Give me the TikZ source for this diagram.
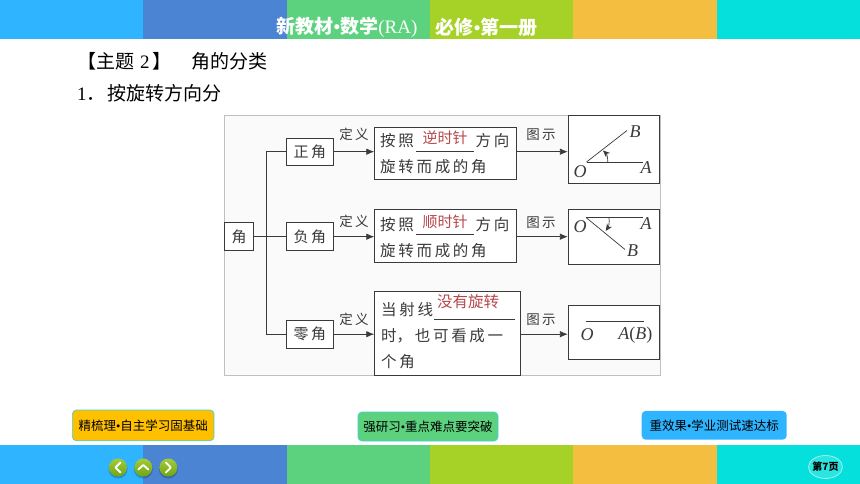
\documentclass[tikz,border=0pt]{standalone}
\usepackage{fontspec}
\setmainfont{Noto Sans CJK SC}
\newfontfamily\serifl{Liberation Serif}
\usetikzlibrary{arrows.meta,calc,shapes.geometric}
\definecolor{cA}{HTML}{2FB4FF}
\definecolor{cB}{HTML}{4A84D2}
\definecolor{cC}{HTML}{5CD17E}
\definecolor{cD}{HTML}{A6D228}
\definecolor{cE}{HTML}{F4BE40}
\definecolor{cF}{HTML}{06E0DC}
\definecolor{ink}{HTML}{3A3A3A}
\definecolor{redt}{HTML}{B5484C}
\definecolor{gold}{HTML}{FFC000}
\definecolor{navt}{HTML}{A5CC3A}
\definecolor{navc}{HTML}{6EA512}
\definecolor{edge}{HTML}{45D0E0}
\newcommand\gp{\kern2.7pt}
\newcommand\dotb{{\serifl •}}
\tikzset{
  x=1pt,y=-1pt,
  box/.style={draw=ink,line width=.8pt,fill=white,inner sep=0pt,align=center,text=ink,font=\fontsize{15}{15}\selectfont},
  def/.style={anchor=west,inner sep=0pt,text=ink,font=\fontsize{15.5}{16}\selectfont},
  lab/.style={inner sep=0pt,text=ink,font=\fontsize{13.5}{14}\selectfont},
  red/.style={inner sep=0pt,text=redt,font=\fontsize{15}{15}\selectfont},
  con/.style={draw=ink,line width=.8pt},
  arr/.style={con,-{Latex[length=8pt,width=6.5pt]}},
  ray/.style={draw=ink,line width=.7pt},
  pt/.style={inner sep=0pt,text=ink,font=\serifl\itshape\fontsize{18}{18}\selectfont},
  ablank/.style={draw=ink,line width=.7pt},
  tab/.style={rounded corners=4pt,inner sep=0pt,text=black,font=\fontsize{12.5}{13}\selectfont},
  navb/.style={circle,inner sep=0pt,minimum size=18pt,top color=navt,bottom color=navc},
  navs/.style={circle,inner sep=0pt,minimum size=19pt,fill=black,opacity=.2},
  navg/.style={draw=white,line width=1.8pt,line cap=round,line join=round},
  body/.style={inner sep=0pt,anchor=west,text=black,font=\fontsize{19}{19}\selectfont},
  ttl/.style={inner sep=0pt,text=white,anchor=center,font=\bfseries\fontsize{19}{19}\selectfont}
}
\begin{document}
\begin{tikzpicture}
\useasboundingbox (0,0) rectangle (860,484);
\fill[white] (0,0) rectangle (860,484);
% bands
\foreach \xa/\xb/\c in {0/143/cA,143/287/cB,287/430/cC,430/573/cD,573/717/cE,717/860/cF}{
  \fill[\c] (\xa,0) rectangle (\xb,39.5);
  \fill[\c] (\xa,444.5) rectangle (\xb,484);
}
\node[ttl] (title1) at (347,27) {新教材\dotb 数学\textnormal{\serifl (RA)}};
\node[ttl] (title2) at (486.7,27) {必修\dotb 第一册};
\node[body] (h1) at (77,61) {【主题\kern6pt{\serifl 2}\kern3pt】};
\node[body] (h2) at (191,61) {角的分类};
\node[body] (h3) at (77,93.5) {{\serifl 1}．\kern1.5pt 按旋转方向分};
% panel
\fill[black!2,draw=black!25,line width=.6pt] (224.5,115.5) rectangle (660,375.5);
% boxes
\node[box,minimum width=29pt,minimum height=28pt] (root) at (239.2,236.7) {角};
\node[box,minimum width=47pt,minimum height=27.5pt] (zheng) at (309.8,151.7) {正\,角};
\node[box,minimum width=47pt,minimum height=28pt] (fu) at (309.8,236.7) {负\,角};
\node[box,minimum width=47pt,minimum height=27.5pt] (ling) at (309.8,334.2) {零\,角};
\node[box,minimum width=142pt,minimum height=52.5pt] (d1) at (445.7,153.5) {};
\node[box,minimum width=142pt,minimum height=53pt] (d2) at (445.7,235.8) {};
\node[box,minimum width=145.3pt,minimum height=83.5pt] (d3) at (447.3,333.4) {};
\node[box,minimum width=90.7pt,minimum height=67.3pt] (p1) at (613.6,149.3) {};
\node[box,minimum width=90.7pt,minimum height=54.7pt] (p2) at (613.6,236.7) {};
\node[box,minimum width=90.7pt,minimum height=54.3pt] (p3) at (613.6,332.2) {};
% tree connectors
\coordinate (trunk) at (266.3,236.7);
\draw[con] (root.east) -- (fu.west);
\draw[con] (zheng.west) -| (trunk) |- (ling.west);
% arrows
\draw[arr] (zheng.east) -- (d1.west |- zheng.east);
\draw[arr] (fu.east) -- (d2.west |- fu.east);
\draw[arr] (ling.east) -- (d3.west |- ling.east);
\draw[arr] (d1.east |- zheng.east) -- (p1.west |- zheng.east);
\draw[arr] (d2.east |- fu.east) -- (p2.west |- fu.east);
\draw[arr] (d3.east |- ling.east) -- (p3.west |- ling.east);
% arrow labels
\node[lab] (l1) at (354,134.5) {定\,义};
\node[lab] (l2) at (354,221) {定\,义};
\node[lab] (l3) at (354,319.5) {定\,义};
\node[lab] (r1) at (541,134.5) {图\,示};
\node[lab] (r2) at (541,223) {图\,示};
\node[lab] (r3) at (541,319.5) {图\,示};
% definition text
\node[def] (t1a) at (380,141) {按\gp 照};
\node[def] (t1b) at (475.5,141) {方\gp 向};
\node[def] (t1c) at (380,167) {旋\gp 转\gp 而\gp 成\gp 的\gp 角};
\node[red] (t1r) at (445,137.5) {逆时针};
\draw[ablank] (416,151) -- (474,151);
\node[def] (t2a) at (380,224.5) {按\gp 照};
\node[def] (t2b) at (475.5,224.5) {方\gp 向};
\node[def] (t2c) at (380,250.5) {旋\gp 转\gp 而\gp 成\gp 的\gp 角};
\node[red] (t2r) at (445,222) {顺时针};
\draw[ablank] (416,234.5) -- (474,234.5);
\node[def] (t3a) at (381,310) {当\gp 射\gp 线};
\node[def] (t3b) at (381,336) {时，\gp 也\gp 可\gp 看\gp 成\gp 一};
\node[def] (t3c) at (381,362) {个\gp 角};
\node[red,font=\fontsize{15.5}{16}\selectfont] (t3r) at (468,302) {没有旋转};
\draw[ablank] (434,319) -- (515,319);
% angle 1
\coordinate (O1) at (586.5,162);
\coordinate (A1) at (643,162);
\coordinate (B1) at (627,130.5);
\draw[ray] (O1) -- (A1);
\draw[ray] (O1) -- (B1);
\draw[ray,-{Stealth[length=7pt,width=6pt]}] (607.7,162) to[bend right=25] (603,150.5);
\node[pt] (nO1) at (580,172) {O};
\node[pt] (nA1) at (646,168) {A};
\node[pt] (nB1) at (635,132) {B};
% angle 2
\coordinate (O2) at (586,217.5);
\coordinate (A2) at (643,217.5);
\coordinate (B2) at (625,249.5);
\draw[ray] (O2) -- (A2);
\draw[ray] (O2) -- (B2);
\draw[ray,-{Stealth[length=7pt,width=6pt]}] (609,217.5) to[bend left=20] (605.7,231);
\node[pt] (nO2) at (580,227) {O};
\node[pt] (nA2) at (646,224) {A};
\node[pt] (nB2) at (632.7,251) {B};
% angle 3
\coordinate (O3) at (586,321);
\coordinate (A3) at (644,321);
\draw[ray] (O3) -- (A3);
\node[pt] (nO3) at (587,335) {O};
\node[pt] (nA3) at (635.3,335) {A\textnormal{\serifl(}B\textnormal{\serifl)}};
% tabs
\node[tab,fill=gold,draw=edge,line width=.7pt,minimum width=141.7pt,minimum height=30.7pt] (tab1) at (143.2,425.4) {精梳理\dotb 自主学习固基础};
\node[tab,fill=cC,draw=edge,line width=.7pt,minimum width=140pt,minimum height=29pt] (tab2) at (428,426.5) {强研习\dotb 重点难点要突破};
\node[tab,fill=cA,minimum width=145pt,minimum height=28.7pt] (tab3) at (714.2,425.3) {重效果\dotb 学业测试速达标};
% nav buttons
\foreach \n/\px in {n1/118,n2/143.3,n3/168.3}{
  \node[navs] (\n s) at (\px,469) {};
  \node[navb] (\n) at (\px,467.5) {};
}
\draw[navg] (120.5,462.5) -- (115.5,467.5) -- (120.5,472.5);
\draw[navg] (138.3,469.5) -- (143.3,465) -- (148.3,469.5);
\draw[navg] (165.8,462.5) -- (170.8,467.5) -- (165.8,472.5);
% page
\node[draw=white!60!cF,fill=cF!85!white,ellipse,inner sep=0pt,minimum width=34pt,minimum height=23pt,line width=.8pt] (pg) at (825.5,467) {};
\node[inner sep=0pt,font=\bfseries\fontsize{10}{10}\selectfont,text=black] (pgt) at (825.5,466.5) {第7页};
\end{tikzpicture}
\end{document}
